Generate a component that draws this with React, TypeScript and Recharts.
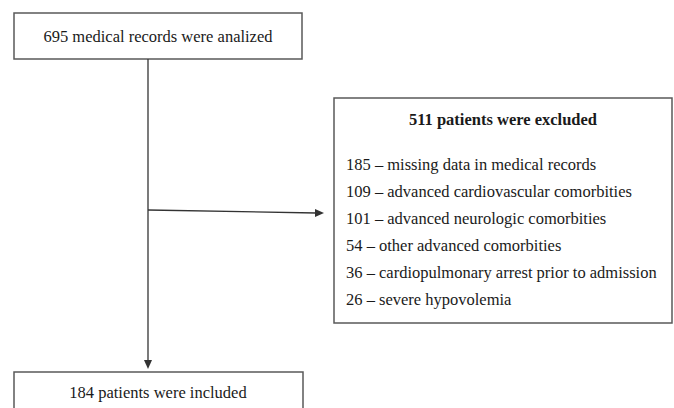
import { ComposedChart, XAxis, YAxis, ReferenceArea, ReferenceLine, Scatter } from "recharts";

// flow counts
const analyzedCount = 695;
const excludedCount = 511;
const includedCount = 184;

// exclusion reasons
const exclusionCounts = [185, 109, 101, 54, 36, 26];
const exclusionReasons = [
  "missing data in medical records",
  "advanced cardiovascular comorbities",
  "advanced neurologic comorbities",
  "other advanced comorbities",
  "cardiopulmonary arrest prior to admission",
  "severe hypovolemia",
];

const W = 674;
const H = 408;
const FONT = "'Liberation Serif', 'Times New Roman', serif";
const BORDER = "#5a5a5a";

// layout of the boxes (pixel space of the chart)
const topBox = { x1: 14, x2: 302, y1: 13, y2: 59 };
const sideBox = { x1: 334, x2: 672, y1: 98, y2: 323 };
const bottomBox = { x1: 14, x2: 303, y1: 372, y2: 430 };
const stemX = 148;
const branchY = 210;
const listX = 346;
const listTop = 164;
const listStep = 27;

type TextPoint = { x: number; y: number; text: string; anchor: string; bold?: boolean };

const texts: TextPoint[] = [
  { x: 158, y: 36, text: `${analyzedCount} medical records were analized`, anchor: "middle" },
  { x: 503, y: 119, text: `${excludedCount} patients were excluded`, anchor: "middle", bold: true },
  ...exclusionCounts.map((c, i) => ({
    x: listX,
    y: listTop + i * listStep,
    text: `${c} \u2013 ${exclusionReasons[i]}`,
    anchor: "start",
  })),
  { x: 158, y: 392, text: `${includedCount} patients were included`, anchor: "middle" },
];

const heads = [
  { x: stemX, y: 369, dir: "down" },
  { x: 324, y: 213, dir: "right" },
];

const TextShape = (props: any) => {
  const { cx, cy, payload } = props;
  return (
    <text
      x={cx}
      y={cy}
      textAnchor={payload.anchor}
      dominantBaseline="central"
      fontFamily={FONT}
      fontSize={16.5}
      fontWeight={payload.bold ? "bold" : "normal"}
      fill="#1a1a1a"
    >
      {payload.text}
    </text>
  );
};

const HeadShape = (props: any) => {
  const { cx, cy, payload } = props;
  const pts =
    payload.dir === "down"
      ? `${cx - 4},${cy - 9} ${cx + 4},${cy - 9} ${cx},${cy}`
      : `${cx - 9},${cy - 4} ${cx - 9},${cy + 4} ${cx},${cy}`;
  return <polygon points={pts} fill="#333" />;
};

export default function App() {
  return (
    <div style={{ position: "absolute", left: 0, top: 0, background: "#fff" }}>
      <ComposedChart width={W} height={H} margin={{ top: 0, right: 0, bottom: 0, left: 0 }}>
        <XAxis type="number" dataKey="x" domain={[0, W]} allowDataOverflow hide />
        <YAxis type="number" dataKey="y" domain={[0, H]} allowDataOverflow reversed hide />
        <ReferenceArea {...topBox} fill="#fff" fillOpacity={1} stroke={BORDER} strokeWidth={1.5} ifOverflow="visible" />
        <ReferenceArea {...sideBox} fill="#fff" fillOpacity={1} stroke={BORDER} strokeWidth={1.5} ifOverflow="visible" />
        <ReferenceArea {...bottomBox} fill="#fff" fillOpacity={1} stroke={BORDER} strokeWidth={1.5} ifOverflow="visible" />
        <ReferenceLine
          segment={[{ x: stemX, y: topBox.y2 }, { x: stemX, y: 361 }]}
          stroke="#333"
          strokeWidth={1.3}
          ifOverflow="visible"
        />
        <ReferenceLine
          segment={[{ x: stemX, y: branchY }, { x: 316, y: 213 }]}
          stroke="#333"
          strokeWidth={1.3}
          ifOverflow="visible"
        />
        <Scatter data={heads} shape={HeadShape} isAnimationActive={false} />
        <Scatter data={texts} shape={TextShape} isAnimationActive={false} />
      </ComposedChart>
    </div>
  );
}
